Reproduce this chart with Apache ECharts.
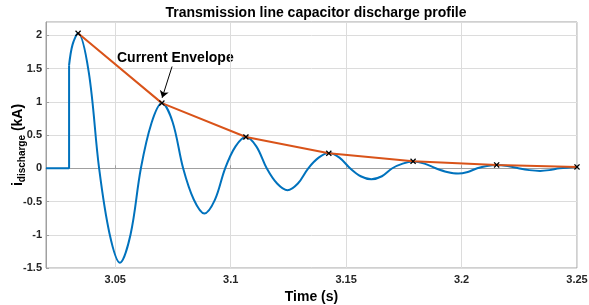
<!DOCTYPE html>
<html>
<head>
<meta charset="utf-8">
<script src="https://cdn.jsdelivr.net/npm/echarts@6/dist/echarts.min.js"></script>
<style>
  html, body { margin: 0; padding: 0; background: #fff; }
  #chart { width: 589px; height: 305px; }
</style>
</head>
<body>
<div id="chart"></div>
<script>
// step before the discharge (flat at zero, then jumps up)
const stepTime = [3.02, 3.0300, 3.0300];
const stepValue = [0, 0, 1.55];

// discharge current (s, kA)
const waveTime = [
    3.0300, 3.0315, 3.0339, 3.0385, 3.0430, 3.0475, 3.0520, 3.0566, 3.0611, 3.0657,
    3.0702, 3.0748, 3.0794, 3.0840, 3.0886, 3.0931, 3.0976, 3.1021, 3.1066, 3.1111,
    3.1156, 3.1201, 3.1246, 3.1291, 3.1336, 3.1381, 3.1425, 3.1471, 3.1517, 3.1563,
    3.1609, 3.1655, 3.1700, 3.1745, 3.1790, 3.1839, 3.1888, 3.1937, 3.1985, 3.2027,
    3.2068, 3.2110, 3.2152, 3.2199, 3.2246, 3.2293, 3.2340, 3.2380, 3.2425, 3.2500
];
const waveValue = [
    1.55, 1.86, 2.03, 1.45, 0, -0.98, -1.42, -1.0, 0, 0.68,
    0.98, 0.70, 0, -0.47, -0.68, -0.48, 0, 0.33, 0.47, 0.33,
    0, -0.23, -0.33, -0.23, 0, 0.16, 0.23, 0.16, 0, -0.12,
    -0.165, -0.12, 0, 0.07, 0.10, 0.07, 0, -0.055, -0.08, -0.055,
    0, 0.035, 0.05, 0.035, 0, -0.028, -0.04, -0.028, 0, 0.02
];

// peaks joined by the envelope
const peakTime = [3.0339, 3.0702, 3.1066, 3.1425, 3.1790, 3.2152, 3.2500];
const peakValue = [2.03, 0.98, 0.47, 0.225, 0.105, 0.05, 0.02];

// arrow of the "Current Envelope" note
const arrowFrom = [3.0746, 1.53];
const arrowTo = [3.0703, 1.06];

const zip = (a, b) => a.map((x, i) => [x, b[i]]);

const font = 'Liberation Sans, Arial, Helvetica, sans-serif';
const cross = 'path://M0,1.5L1.5,0L5,3.5L8.5,0L10,1.5L6.5,5L10,8.5L8.5,10L5,6.5L1.5,10L0,8.5L3.5,5Z';
const tickLabel = {
    color: '#262626',
    fontSize: 11,
    fontWeight: 'bold',
    fontFamily: font
};

const myChart = echarts.init(document.getElementById('chart'));
const option = {
    backgroundColor: '#fff',
    animation: false,
    title: {
        text: 'Transmission line capacitor discharge profile',
        left: 311,
        textAlign: 'center',
        top: 1,
        textStyle: { fontSize: 14, fontWeight: 'bold', color: '#000', fontFamily: font }
    },
    grid: {
        left: 46,
        right: 12,
        top: 22,
        bottom: 37,
        outerBoundsMode: 'none',
        containLabel: false,
        show: true,
        borderColor: '#a0a0a0',
        borderWidth: 1
    },
    xAxis: {
        type: 'value',
        min: 3.02,
        max: 3.25,
        splitNumber: 5,
        name: 'Time (s)',
        nameLocation: 'middle',
        nameGap: 20,
        nameTextStyle: { fontSize: 14, fontWeight: 'bold', color: '#000', fontFamily: font },
        axisLine: { lineStyle: { color: '#a0a0a0' } },
        axisTick: { inside: true, length: 3, lineStyle: { color: '#a0a0a0' } },
        axisLabel: Object.assign({ margin: 6, showMinLabel: false }, tickLabel),
        splitLine: { lineStyle: { color: '#dcdcdc' } }
    },
    yAxis: {
        type: 'value',
        min: -1.5,
        max: 2.2,
        interval: 0.5,
        name: '{i|i}{sub|discharge}{i| (kA)}',
        nameLocation: 'middle',
        nameGap: 19,
        nameMoveOverlap: false,
        nameTextStyle: {
            rich: {
                i: { fontSize: 14, fontWeight: 'bold', color: '#000', fontFamily: font },
                sub: { fontSize: 10, fontWeight: 'bold', color: '#000', fontFamily: font, padding: [8, 0, 0, 0] }
            }
        },
        axisLine: { show: true, lineStyle: { color: '#a0a0a0' } },
        axisTick: { show: true, inside: true, length: 3, lineStyle: { color: '#a0a0a0' } },
        axisLabel: Object.assign({ margin: 4, showMaxLabel: false }, tickLabel),
        splitLine: { lineStyle: { color: '#dcdcdc' } }
    },
    graphic: [
        {
            type: 'text',
            left: 117,
            top: 51,
            style: { text: 'Current Envelope', fontSize: 14, fontWeight: 'bold', fill: '#000', fontFamily: font }
        }
    ],
    series: [
        {
            name: 'step',
            type: 'line',
            data: zip(stepTime, stepValue),
            showSymbol: false,
            lineStyle: { color: '#0072BD', width: 2 },
            z: 2
        },
        {
            name: 'current',
            type: 'line',
            data: zip(waveTime, waveValue),
            smooth: 0.35,
            showSymbol: false,
            lineStyle: { color: '#0072BD', width: 2 },
            z: 2
        },
        {
            name: 'envelope',
            type: 'line',
            data: zip(peakTime, peakValue),
            symbol: cross,
            symbolSize: 6,
            itemStyle: { color: '#000' },
            lineStyle: { color: '#D95319', width: 2 },
            z: 3,
            markLine: {
                silent: true,
                symbol: ['none', 'arrow'],
                symbolSize: 7,
                label: { show: false },
                lineStyle: { color: '#000', width: 1, type: 'solid' },
                data: [[{ coord: arrowFrom }, { coord: arrowTo }]]
            }
        }
    ]
};
myChart.setOption(option);
</script>
</body>
</html>
